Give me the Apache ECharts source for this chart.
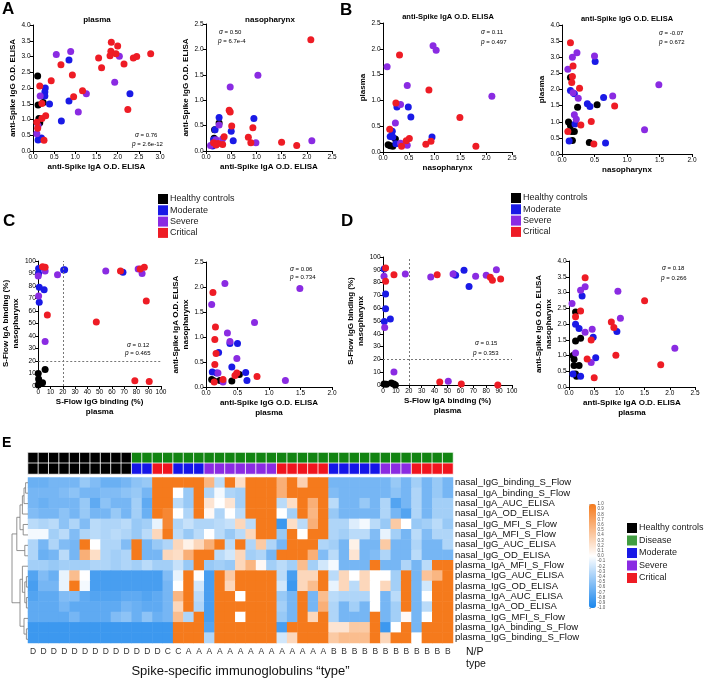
<!DOCTYPE html>
<html><head><meta charset="utf-8">
<script src="https://cdn.jsdelivr.net/npm/echarts@6/dist/echarts.min.js"></script>
<style>html,body{margin:0;padding:0;background:#fff}#c{width:706px;height:679px}</style>
</head><body><div id="c"></div>
<script>
const FONT = 'Liberation Sans, Arial, Helvetica, sans-serif';
const groupNames = ['Healthy controls', 'Moderate', 'Severe', 'Critical'];
const groupColors = ['#000000', '#1a1ae6', '#8a2be2', '#ee1c25'];
const diseaseColor = '#128412';
const positivityCutoff = 20;

// scatter data: [x, y, group]  group: 0 healthy, 1 moderate, 2 severe, 3 critical
const A_plasma = [
 [1.85,3.45,3],[2.0,3.33,3],[1.84,3.17,3],[1.96,3.09,3],[1.82,3.02,3],[1.55,2.95,3],[1.62,2.64,3],[2.15,2.76,3],[2.37,2.95,3],[2.45,3.0,3],[2.78,3.09,3],[0.66,2.74,3],[0.43,2.23,3],[0.93,2.41,3],[1.17,1.91,3],[0.96,1.72,3],[2.24,1.32,3],[0.16,2.06,3],[0.21,1.51,3],[0.21,1.03,3],[0.30,1.12,3],[0.09,0.91,3],[0.11,0.72,3],[0.26,0.34,3],
 [0.55,3.06,2],[0.89,3.16,2],[2.04,3.01,2],[1.93,2.18,2],[1.26,1.82,2],[1.07,1.24,2],[0.17,1.75,2],[0.09,0.55,2],[0.12,0.8,2],
 [0.85,2.89,1],[0.29,2.0,1],[0.28,1.87,1],[0.28,1.75,1],[0.39,1.49,1],[0.85,1.59,1],[0.67,0.95,1],[2.29,1.82,1],[0.14,0.39,1],[0.2,0.41,1],[0.12,0.35,1],
 [0.11,2.38,0],[0.12,1.46,0],[0.24,1.54,0],[0.14,1.03,0],[0.16,0.9,0]
];
const A_naso = [
 [2.08,2.19,3],[0.46,0.80,3],[0.48,0.77,3],[0.51,0.49,3],[0.93,0.46,3],[0.84,0.27,3],[0.89,0.16,3],[1.5,0.17,3],[1.8,0.11,3],[0.36,0.28,3],[0.33,0.13,3],[0.24,0.15,3],[0.15,0.16,3],[0.2,0.12,3],
 [1.03,1.49,2],[0.48,1.26,2],[0.26,0.51,2],[0.33,0.24,2],[0.99,0.16,2],[2.10,0.2,2],[0.09,0.11,2],[0.2,0.22,2],
 [0.26,0.66,1],[0.95,0.64,1],[0.5,0.39,1],[0.54,0.2,1],[0.18,0.42,1],[0.15,0.22,1],[0.2,0.13,1],[0.13,0.1,1],
 [0.17,0.42,0],[0.26,0.55,0],[0.16,0.25,0],[0.19,0.18,0]
];
const B_IgA = [
 [0.97,2.06,2],[1.03,1.97,2],[0.08,1.65,2],[0.47,1.29,2],[2.11,1.08,2],[0.34,0.92,2],[0.24,0.56,2],[0.34,0.17,2],[0.47,0.13,2],
 [0.32,1.88,3],[0.89,1.2,3],[0.25,0.95,3],[1.49,0.67,3],[0.13,0.44,3],[0.51,0.26,3],[0.45,0.22,3],[0.83,0.15,3],[0.93,0.21,3],[0.36,0.11,3],[1.8,0.11,3],
 [0.49,0.87,1],[0.27,0.87,1],[0.54,0.68,1],[0.18,0.4,1],[0.14,0.3,1],[0.19,0.29,1],[0.95,0.29,1],[0.25,0.16,1],
 [0.24,0.25,0],[0.1,0.14,0],[0.14,0.12,0],[0.19,0.11,0]
];
const B_IgG = [
 [0.13,3.45,3],[0.17,2.73,3],[0.16,2.4,3],[0.15,2.22,3],[0.27,2.04,3],[0.81,1.49,3],[0.45,1.01,3],[0.29,0.9,3],[0.09,0.7,3],[0.49,0.31,3],
 [0.23,3.14,2],[0.16,3.0,2],[0.5,3.04,2],[0.09,2.63,2],[0.25,1.73,2],[0.78,1.8,2],[0.19,1.22,2],[0.22,1.08,2],[1.27,0.75,2],[1.49,2.15,2],[0.17,1.9,2],
 [0.51,2.87,1],[0.13,1.97,1],[0.19,1.87,1],[0.39,1.56,1],[0.43,1.47,1],[0.64,1.75,1],[0.2,0.93,1],[0.11,0.4,1],[0.67,0.34,1],
 [0.13,2.37,0],[0.24,1.45,0],[0.54,1.53,0],[0.1,0.99,0],[0.13,0.88,0],[0.15,0.7,0],[0.19,0.7,0],[0.16,0.42,0],[0.42,0.36,0]
];
const C_SFlow = [
 [0.3,94,1],[0.3,90,1],[0.8,79,1],[4.8,77,1],[0.8,67,1],[21.5,93,1],[20.7,92.8,1],[69,91,1],
 [0,88,2],[5.6,92,2],[15.7,89,2],[55,92,2],[81.4,93.6,2],[84.6,90,2],[0.3,72,2],[5.6,35.7,2],
 [3.5,95.5,3],[5.6,95,3],[67,92,3],[86.4,95,3],[83,93.6,3],[88,68,3],[7.4,56.8,3],[47.3,51.2,3],[78.7,4.3,3],[90.4,3.7,3],
 [0,10.1,0],[0.3,5.6,0],[0.8,2.7,0],[0,0.8,0],[5.6,13.3,0],[3.5,2.7,0]
];
const C_ELISA = [
 [0.3,2.07,2],[0.09,1.65,2],[1.49,1.97,2],[0.77,1.29,2],[0.34,1.08,2],[0.38,0.91,2],[0.49,0.57,2],[0.19,0.28,2],[1.26,0.13,2],[0.27,0.1,2],
 [0.11,1.89,3],[0.15,1.2,3],[0.14,0.95,3],[0.16,0.67,3],[0.14,0.45,3],[0.81,0.21,3],[0.46,0.23,3],[0.49,0.28,3],[0.27,0.15,3],[0.13,0.1,3],
 [0.38,0.87,1],[0.5,0.87,1],[0.2,0.69,1],[0.41,0.4,1],[0.1,0.3,1],[0.17,0.28,1],[0.63,0.29,1],[0.65,0.13,1],
 [0.53,0.25,0],[0.09,0.15,0],[0.13,0.12,0],[0.22,0.13,0],[0.41,0.12,0]
];
const D_SFlow = [
 [0.8,90.6,1],[2,71,1],[2,59.6,1],[5.7,51.6,1],[1,49.7,1],[54.8,86.7,1],[56.3,85.7,1],[62.8,89.6,1],[66.7,77,1],
 [0.8,84.9,2],[1.3,45,2],[8.5,10.2,2],[17.3,86.7,2],[37,84.4,2],[54.3,86.7,2],[71.8,84.9,2],[80,85.7,2],[87.9,90.1,2],[50.6,2.9,2],
 [2,91.4,3],[2,81,3],[8.5,86.2,3],[42,86.2,3],[83.2,84.1,3],[84.8,81.8,3],[91.2,82.8,3],[44,2.3,3],[60.7,0.8,3],[89,0,3],
 [0.8,0.8,0],[2.6,0.5,0],[6.5,1.6,0],[8.3,0.8,0],[9.6,0,0]
];
const D_ELISA = [
 [0.32,3.47,3],[0.23,2.41,3],[0.13,2.23,3],[0.84,2.06,3],[0.89,1.89,3],[0.44,1.49,3],[1.5,2.74,3],[0.36,0.89,3],[0.93,1.01,3],[1.82,0.71,3],[0.5,0.29,3],
 [0.06,2.65,2],[0.23,3.07,2],[0.32,3.18,2],[0.97,3.04,2],[1.02,2.18,2],[0.46,1.83,2],[0.32,1.74,2],[0.13,1.08,2],[0.44,0.78,2],[2.1,1.23,2],
 [0.26,2.89,1],[0.13,1.99,1],[0.2,1.86,1],[0.48,1.58,1],[0.95,1.76,1],[0.53,0.93,1],[0.08,0.41,1],[0.23,0.34,1],
 [0.13,2.38,0],[0.23,1.55,0],[0.13,1.46,0],[0.08,1.0,0],[0.1,0.88,0],[0.1,0.68,0],[0.2,0.68,0],[0.13,0.41,0],[0.15,0.34,0]
];

// heatmap
const rowNames = ['nasal_IgG_binding_S_Flow','nasal_IgA_binding_S_Flow','nasal_IgA_AUC_ELISA','nasal_IgA_OD_ELISA','nasal_IgG_MFI_S_Flow','nasal_IgA_MFI_S_Flow','nasal_IgG_AUC_ELISA','nasal_IgG_OD_ELISA','plasma_IgA_MFI_S_Flow','plasma_IgG_AUC_ELISA','plasma_IgG_OD_ELISA','plasma_IgA_AUC_ELISA','plasma_IgA_OD_ELISA','plasma_IgG_MFI_S_Flow','plasma_IgA_binding_S_Flow','plasma_IgG_binding_S_Flow'];
const typeLabels = ['D','D','D','D','D','D','D','D','D','D','D','D','D','C','C','A','A','A','A','A','A','A','A','A','A','A','A','A','A','B','B','B','B','B','B','B','B','B','B','B','B'];
const statusRow   = [0,0,0,0,0,0,0,0,0,0,1,1,1,1,1,1,1,1,1,1,1,1,1,1,1,1,1,1,1,1,1,1,1,1,1,1,1,1,1,1,1];
const severityRow = [0,0,0,0,0,0,0,0,0,0,2,2,4,4,2,2,2,3,3,3,3,3,3,3,4,4,4,4,4,2,2,2,2,2,3,3,3,4,4,4,4];
const annColors = ['#000000', diseaseColor, '#1515e8', '#8b2be2', '#f0141e'];
const heatRows = [
 [-0.65,-0.65,-0.6,-0.6,-0.6,-0.45,-0.55,-0.65,-0.65,-0.6,-0.5,-0.45,1,1,1,1,1,0.55,-0.3,1,0.25,1,1,1,0.6,1,0.35,1,1,-0.6,-0.6,-0.6,-0.6,-0.6,-0.6,-0.45,-0.6,-0.4,-0.6,-0.45,-0.6],
 [-0.6,-0.6,-0.6,-0.55,-0.5,-0.6,-0.6,-0.55,-0.55,-0.5,-0.45,-0.6,1,1,0,-0.45,1,-0.35,-0.05,-0.35,-0.4,1,1,1,0.6,1,1,1,1,-0.55,-0.6,-0.6,-0.6,-0.6,-0.6,-0.5,-0.6,-0.35,-0.6,-0.45,-0.6],
 [-0.6,-0.65,-0.6,-0.6,-0.6,-0.45,-0.7,-0.5,-0.6,-0.6,-0.4,-0.7,1,1,-0.3,-0.45,1,0.2,0,0.2,-0.4,1,1,1,-0.3,0.25,1,0.6,1,-0.3,-0.6,-0.6,-0.45,-0.6,-0.35,-0.75,-0.6,-0.35,-0.6,-0.4,-0.4],
 [-0.55,-0.6,-0.6,-0.5,-0.6,-0.45,-0.6,-0.6,-0.45,-0.6,-0.4,-0.65,1,0.9,0,-0.35,1,0.05,-0.35,0,-0.3,1,1,1,0,-0.4,1,0.55,1,-0.45,-0.6,-0.6,-0.6,-0.6,-0.35,-0.6,-0.75,-0.35,-0.6,-0.4,-0.4],
 [-0.3,-0.35,-0.3,-0.5,-0.35,-0.55,-0.3,-0.35,-0.35,-0.3,-0.45,-0.4,-0.1,0.9,-0.35,-0.25,-0.35,-0.35,-0.3,-0.25,0.3,-0.3,1,1,-0.85,0.25,-0.3,0.6,1,-0.35,-0.35,-0.15,-0.05,-0.3,-0.45,0.4,0,-0.45,-0.4,-0.3,-0.45],
 [-0.05,-0.05,-0.4,-0.3,-0.55,-0.35,-0.3,-0.35,-0.3,-0.35,-0.45,-0.3,0.3,1,-0.3,-0.45,-0.3,0,-0.3,-0.45,-0.3,0.3,1,1,-0.45,1,0,1,1,-0.35,-0.4,-0.3,-0.3,-0.55,-0.1,-0.4,-0.6,-0.3,-0.55,-0.35,-0.35],
 [-0.35,-0.6,-0.35,-0.55,-0.6,1,0,-0.35,-0.35,-0.55,1,-0.6,-0.45,-0.35,0.3,0.1,0.3,0.6,1,-0.3,1,-0.35,0.4,-0.35,-0.6,1,1,1,-0.35,-0.4,-0.6,0.1,-0.6,-0.6,0.4,-0.6,-0.6,-0.35,-0.6,-0.6,-0.35],
 [-0.35,-0.65,-0.6,-0.3,-0.6,0.6,0.25,-0.35,-0.4,-0.35,1,-0.6,-0.6,0.3,0.25,0.6,1,1,-0.3,-0.2,0.3,-0.4,-0.35,-0.6,1,1,1,0.6,-0.55,-0.3,-0.6,0.2,-0.6,-0.55,-0.35,-0.6,-0.6,-0.3,-0.6,-0.6,-0.6],
 [-0.4,-0.4,-0.45,-0.4,-0.4,-0.4,-0.35,-0.35,-0.4,-0.35,-0.4,-0.3,-0.4,-0.4,-0.25,-0.45,1,-0.45,-0.4,-0.45,0.3,0.55,0.05,-0.4,-0.3,-0.4,0.5,-0.4,-0.2,-0.05,-0.6,-0.6,-0.6,1,-0.6,-0.6,-0.35,-0.6,-0.3,1,1],
 [-0.75,-0.55,-0.65,-0.1,0.5,0,-0.8,-0.8,-0.8,-0.8,-0.8,-0.8,-0.8,-0.55,-0.1,1,0,-0.8,1,0.4,1,1,1,1,-0.3,-0.8,0.3,0.3,1,-0.3,0.3,0,0.3,0,0,-0.4,1,-0.6,0.45,0.55,1],
 [-0.8,-0.6,-0.6,-0.1,1,-0.05,-0.8,-0.8,-0.8,-0.8,-0.8,-0.8,-0.8,-0.6,0,1,-0.2,-0.8,1,0.3,1,1,1,1,-0.2,-0.85,0.3,0.5,1,-0.1,0.3,-0.3,0.3,0,0.3,-0.4,1,-0.6,-0.2,1,1],
 [-0.75,-0.7,-0.7,-0.55,-0.55,-0.7,-0.75,-0.75,-0.75,-0.7,-0.7,-0.75,-0.7,-0.6,0.55,1,-0.3,-0.8,1,1,0,1,1,1,-0.45,-0.6,1,-0.6,0.5,-0.3,-0.35,-0.35,-0.35,0,-0.6,-0.3,1,-0.6,0,1,1],
 [-0.7,-0.7,-0.7,-0.6,-0.7,-0.7,-0.7,-0.7,-0.7,-0.6,-0.65,-0.7,-0.7,-0.6,0.3,1,-0.35,-0.8,1,1,1,1,1,1,-0.4,-0.6,1,-0.6,0.6,-0.35,-0.6,-0.4,-0.6,0,-0.6,-0.4,1,-0.6,-0.3,1,1],
 [-0.7,-0.7,-0.7,-0.7,-0.6,-0.7,-0.7,-0.7,-0.55,-0.5,-0.65,-0.5,-0.65,-0.6,0.5,-0.35,1,-0.8,1,1,0,1,1,1,-0.45,-0.6,1,0.3,1,-0.35,-0.6,-0.6,-0.6,1,-0.6,-0.4,0.05,-0.6,0,1,1],
 [-0.85,-0.85,-0.85,-0.85,-0.85,-0.85,-0.85,-0.85,-0.85,-0.85,-0.85,-0.85,-0.85,-0.85,1,1,1,-0.75,1,1,1,1,1,1,-0.8,1,1,1,1,0.2,0.2,0.4,0.4,1,-0.85,0,1,-0.6,1,1,1],
 [-0.85,-0.85,-0.85,-0.85,-0.85,-0.85,-0.85,-0.85,-0.85,-0.85,-0.85,-0.85,-0.85,-0.85,1,1,1,-0.35,1,1,1,1,1,1,-0.2,0.3,1,1,1,0.4,0.5,0.5,0.5,1,0.3,1,1,0,1,1,1]
];
// hierarchical clustering of rows: [childA, childB, height]; ids >= 16 are earlier merges
const rowLinkage = [[0,1,0.15],[16,2,0.25],[17,3,0.35],[4,5,0.3],[18,19,0.5],[6,7,0.2],[20,21,0.7],[9,10,0.1],[11,12,0.1],[23,24,0.2],[8,25,0.35],[14,15,0.1],[13,27,0.25],[26,28,0.5],[22,29,1.0]];

// ---------- build ----------
function axis(gi, min, max, interval, name, gap, isY, lh) {
  return {
    type: 'value', gridIndex: gi, min: min, max: max, interval: interval,
    axisLine: {show: true, onZero: false, lineStyle: {color: '#000', width: 1}},
    axisTick: {show: true, length: 3, lineStyle: {color: '#000', width: 1}},
    axisLabel: {fontSize: 6.5, color: '#000', margin: 2.5, fontFamily: FONT,
      formatter: v => interval < 1 ? v.toFixed(1) : String(v)},
    splitLine: {show: false},
    name: name, nameLocation: 'middle', nameGap: gap, nameRotate: isY ? 90 : 0,
    nameTextStyle: {fontSize: 8, fontWeight: 'bold', color: '#000', fontFamily: FONT, lineHeight: lh || 10}
  };
}
const grids = [
  {left:33, top:25, width:127, height:126},
  {left:206, top:24, width:126, height:127},
  {left:383, top:23, width:129, height:129},
  {left:562, top:25, width:130, height:129},
  {left:36, top:261, width:125, height:125},
  {left:206, top:262, width:126, height:125},
  {left:383, top:257, width:129, height:128},
  {left:569, top:261, width:126, height:126},
  {left:28, top:477.5, width:425, height:167},
  {left:28, top:452.5, width:425, height:21.5},
  {left:12, top:477.5, width:16, height:167},
  {left:589, top:504, width:7, height:104}
];
const xAxes = [
  axis(0,0,3,0.5,'anti-Spike IgA O.D. ELISA',11,false),
  axis(1,0,2.5,0.5,'anti-Spike IgA O.D. ELISA',11,false),
  axis(2,0,2.5,0.5,'nasopharynx',9,false),
  axis(3,0,2,0.5,'nasopharynx',9,false),
  axis(4,0,100,10,'S-Flow IgG binding (%)\nplasma',10,false),
  axis(5,0,2,0.5,'anti-Spike IgG O.D. ELISA\nplasma',10,false),
  axis(6,0,100,10,'S-Flow IgA binding (%)\nplasma',10,false),
  axis(7,0,2.5,0.5,'anti-Spike IgA O.D. ELISA\nplasma',10,false),
  {type:'category', gridIndex:8, data: typeLabels, axisLine:{show:false}, axisTick:{show:false},
   axisLabel:{interval:0, fontSize:8.5, color:'#333', margin:4, fontFamily: FONT},
   name:'Spike-specific immunoglobulins \u201ctype\u201d', nameLocation:'middle', nameGap:22,
   nameTextStyle:{fontSize:13, color:'#111', fontFamily: FONT}},
  {type:'category', gridIndex:9, data: typeLabels.map((d,i)=>i), show:false},
  {type:'value', gridIndex:10, min:0, max:1, inverse:true, show:false},
  {type:'value', gridIndex:11, min:0, max:1, show:false}
];
const yAxes = [
  axis(0,0,4,0.5,'anti-Spike IgG O.D. ELISA',14,true),
  axis(1,0,2.5,0.5,'anti-Spike IgG O.D. ELISA',15,true),
  axis(2,0,2.5,0.5,'plasma',13,true),
  axis(3,0,4,0.5,'plasma',14,true),
  axis(4,0,100,10,'S-Flow IgA binding (%)\nnasopharynx',11,true),
  axis(5,0,2.5,0.5,'anti-Spike IgA O.D. ELISA\nnasopharynx',12,true),
  axis(6,0,100,10,'S-Flow IgG binding (%)\nnasopharynx',11,true),
  axis(7,0,4,0.5,'anti-Spike IgG O.D. ELISA\nnasopharynx',12,true),
  {type:'category', gridIndex:8, data: rowNames, inverse:true, position:'right', axisLine:{show:false}, axisTick:{show:false},
   axisLabel:{interval:0, fontSize:9.5, color:'#111', margin:2, fontFamily: FONT}},
  {type:'category', gridIndex:9, data:['status','severity'], inverse:true, show:false},
  {type:'value', gridIndex:10, min:-0.5, max:15.5, inverse:true, show:false},
  {type:'value', gridIndex:11, min:-1, max:1, interval:0.1, position:'right',
   axisLine:{show:false}, axisTick:{show:true, length:2, lineStyle:{color:'#999', width:0.6}},
   splitLine:{show:false},
   axisLabel:{interval:0, fontSize:4.5, color:'#555', margin:1.5, fontFamily: FONT,
     formatter: v => Math.abs(v) < 1e-9 ? '0.0' : v.toFixed(1)}}
];

const panels = [A_plasma, A_naso, B_IgA, B_IgG, C_SFlow, C_ELISA, D_SFlow, D_ELISA];
const series = [];
panels.forEach((pts, gi) => {
  for (let g = 0; g < 4; g++) {
    series.push({type:'scatter', name: groupNames[g], xAxisIndex: gi, yAxisIndex: gi, symbolSize: 7,
      itemStyle:{color: groupColors[g], opacity: 1}, data: pts.filter(p => p[2] === g).map(p => [p[0], p[1]]), z: 3});
  }
});
[4, 6].forEach(gi => {
  series.push({type:'scatter', xAxisIndex: gi, yAxisIndex: gi, data: [], silent: true,
    markLine:{silent:true, symbol:['none','none'], label:{show:false},
      lineStyle:{type:[2,2], color:'#777', width:1},
      data:[{xAxis: positivityCutoff}, {yAxis: positivityCutoff}]}});
});
series.push({type:'scatter', name:'Disease', xAxisIndex:0, yAxisIndex:0, data:[], itemStyle:{color: diseaseColor}});

const heatData = [];
heatRows.forEach((row, r) => row.forEach((v, c) => heatData.push([c, r, v])));
const heatIdx = series.length;
series.push({type:'heatmap', xAxisIndex:8, yAxisIndex:8, data: heatData, silent: true});
const annData = [];
statusRow.forEach((v, c) => annData.push({value: [c, 0, v], itemStyle: {color: annColors[v]}}));
severityRow.forEach((v, c) => annData.push({value: [c, 1, v], itemStyle: {color: annColors[v]}}));
series.push({type:'heatmap', xAxisIndex:9, yAxisIndex:9, data: annData, silent:true,
  itemStyle:{borderColor:'#fff', borderWidth:0.8, opacity: 1}});

// dendrogram geometry from linkage
const nodeY = [], nodeH = [];
for (let i = 0; i < rowNames.length; i++) { nodeY[i] = i; nodeH[i] = 0; }
rowLinkage.forEach((m, k) => { const id = rowNames.length + k; nodeY[id] = (nodeY[m[0]] + nodeY[m[1]]) / 2; nodeH[id] = m[2]; });
series.push({type:'custom', xAxisIndex:10, yAxisIndex:10, silent:true,
  data: rowLinkage.map((m, k) => [m[2], nodeY[rowNames.length + k], m[0], m[1]]),
  renderItem: (params, api) => {
    const a = api.value(2), b = api.value(3), h = api.value(0);
    const pts = [api.coord([nodeH[a], nodeY[a]]), api.coord([h, nodeY[a]]), api.coord([h, nodeY[b]]), api.coord([nodeH[b], nodeY[b]])];
    return {type:'polyline', shape:{points: pts}, style:{stroke:'#777', fill:null, lineWidth:0.8}};
  }});

function stat(x, y, txt) {
  return {type:'text', x: x, y: y, style:{text: txt, fontSize: 6, fontFamily: FONT, fill:'#000', verticalAlign:'middle',
    rich:{i:{fontStyle:'italic', fontSize:6.5, fontFamily: FONT}}}};
}
function ttl(x, y, txt, fs) {
  return {type:'text', x: x, y: y, style:{text: txt, fontSize: fs, fontWeight:'bold', fontFamily: FONT, fill:'#000', align:'center', verticalAlign:'middle'}};
}
function letter(x, y, txt, fs) {
  return {type:'text', x: x, y: y, style:{text: txt, fontSize: fs, fontWeight:'bold', fontFamily: FONT, fill:'#000'}};
}
const graphics = [
  letter(2, 1, 'A', 17), letter(340, 2, 'B', 17), letter(3, 213, 'C', 17), letter(341, 213, 'D', 17), letter(2, 436, 'E', 14),
  ttl(97, 20, 'plasma', 8), ttl(270, 20, 'nasopharynx', 8),
  ttl(448, 17, 'anti-Spike IgA O.D. ELISA', 7.5), ttl(627, 19, 'anti-Spike IgG O.D. ELISA', 7.5),
  stat(135, 135, '{i|\u03c3} = 0.76'), stat(132, 144, '{i|p} = 2.6e-12'),
  stat(219, 32, '{i|\u03c3} = 0.50'), stat(218, 41, '{i|p} = 6.7e-4'),
  stat(481, 32, '{i|\u03c3} = 0.11'), stat(481, 42, '{i|p} = 0.497'),
  stat(659, 33, '{i|\u03c3} = -0.07'), stat(659, 42, '{i|p} = 0.672'),
  stat(127, 345, '{i|\u03c3} = 0.12'), stat(125, 353, '{i|p} = 0.465'),
  stat(290, 269, '{i|\u03c3} = 0.06'), stat(290, 277, '{i|p} = 0.734'),
  stat(475, 343, '{i|\u03c3} = 0.15'), stat(473, 353, '{i|p} = 0.353'),
  stat(662, 268, '{i|\u03c3} = 0.18'), stat(661, 278, '{i|p} = 0.266'),
  {type:'text', x:466, y:652, style:{text:'N/P', fontSize:10.5, fontFamily: FONT, fill:'#111', verticalAlign:'middle'}},
  {type:'text', x:466, y:664, style:{text:'type', fontSize:10.5, fontFamily: FONT, fill:'#111', verticalAlign:'middle'}}
];

function legend(left, top, names, fs, gap) {
  return {orient:'vertical', left: left, top: top, data: names, icon:'rect', itemWidth:10, itemHeight:10, itemGap: gap,
    padding:0, selectedMode:false, textStyle:{fontSize: fs, color:'#222', fontFamily: FONT, padding:[0,0,0,-3]}};
}

const chart = echarts.init(document.getElementById('c'), null, {renderer:'canvas'});
chart.setOption({
  animation: false,
  backgroundColor: '#fff',
  textStyle: {fontFamily: FONT},
  grid: grids.map(g => Object.assign({containLabel:false}, g)),
  xAxis: xAxes, yAxis: yAxes,
  legend: [
    legend(158, 194, groupNames, 9, 1.3),
    legend(511, 193, groupNames, 9, 1.3),
    legend(627, 523, ['Healthy controls','Disease','Moderate','Severe','Critical'], 9, 2.5)
  ],
  visualMap: [
    {type:'continuous', seriesIndex: heatIdx, dimension: 2, min:-1, max:1, calculable:false, text:['',''],
     inRange:{color:['#1a86ec','#ffffff','#f57a1c']}, left:589, top:504, itemWidth:7, itemHeight:104, padding:0, hoverLink:false}
  ],
  graphic: graphics,
  series: series
});
</script></body></html>
